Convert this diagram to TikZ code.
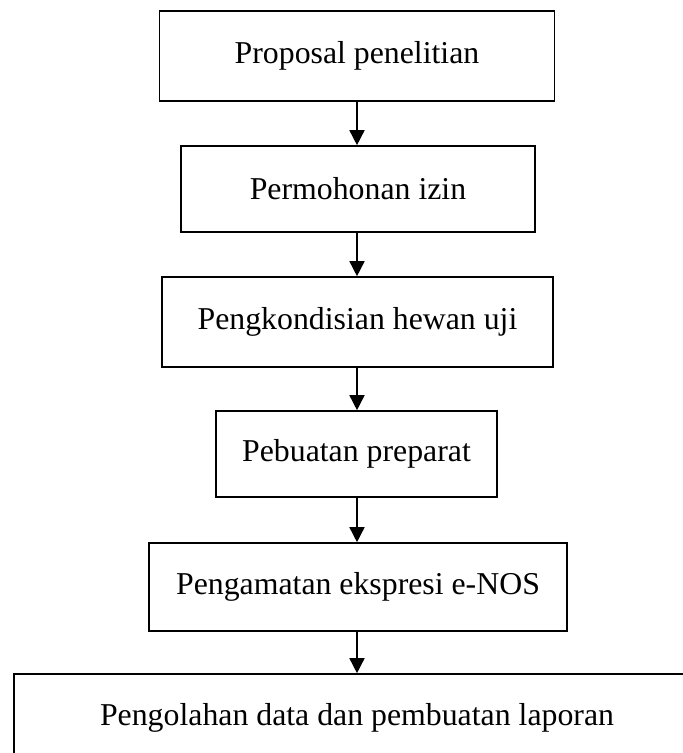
\documentclass[tikz,border=0pt]{standalone}
\usepackage{fontspec}
\setmainfont{Liberation Serif}
\usetikzlibrary{arrows.meta}
\begin{document}
\begin{tikzpicture}[x=1pt,y=1pt,
  box/.style={draw=black, line width=1.6pt, inner sep=0pt, font=\fontsize{31.8}{36}\selectfont},
  arr/.style={line width=1.6pt, -{Triangle[length=15pt,width=15pt]}}]
\clip (0,0) rectangle (683,753);
\coordinate (col) at (357,0);
\node[box, minimum width=395pt, minimum height=90pt] (b1) at (357,697) {Proposal penelitian};
\node[box, minimum width=354pt, minimum height=86pt] (b2) at (358,564) {Permohonan izin};
\node[box, minimum width=391pt, minimum height=90pt] (b3) at (357.5,431) {Pengkondisian hewan uji};
\node[box, minimum width=281pt, minimum height=86pt] (b4) at (356.5,299) {Pebuatan preparat};
\node[box, minimum width=418pt, minimum height=88pt] (b5) at (358,166) {Pengamatan ekspresi e-NOS};
\node[box, minimum width=686pt, minimum height=88pt] (b6) at (357,35) {Pengolahan data dan pembuatan laporan};
\draw[arr] (b1.south -| col) -- (b2.north -| col);
\draw[arr] (b2.south -| col) -- (b3.north -| col);
\draw[arr] (b3.south -| col) -- (b4.north -| col);
\draw[arr] (b4.south -| col) -- (b5.north -| col);
\draw[arr] (b5.south -| col) -- (b6.north -| col);
\end{tikzpicture}
\end{document}
